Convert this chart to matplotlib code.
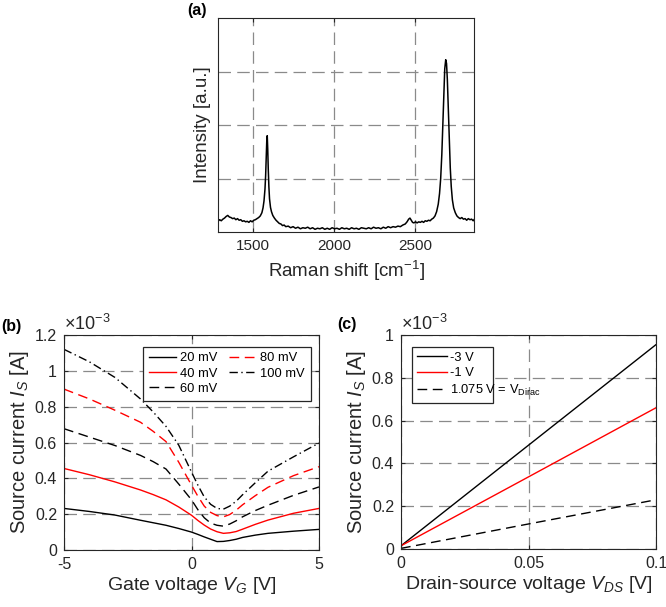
import matplotlib
matplotlib.use("Agg")
import matplotlib.pyplot as plt
from matplotlib.ticker import FuncFormatter
from matplotlib.patches import Rectangle

plt.rcParams['font.family'] = ['Liberation Sans', 'DejaVu Sans']
plt.rcParams['mathtext.fontset'] = 'custom'
plt.rcParams['mathtext.rm'] = 'Liberation Sans'
plt.rcParams['mathtext.it'] = 'Liberation Sans:italic'
plt.rcParams['mathtext.bf'] = 'Liberation Sans:bold'

# ---------------- data ----------------
# (a) Raman spectrum
raman_shift = [1285, 1295, 1305, 1315, 1325, 1335, 1345, 1355, 1365, 1375, 1385, 1395, 1405, 1415,
               1425, 1435, 1445, 1455, 1465, 1475, 1485, 1495, 1505, 1515, 1525, 1535, 1545, 1555,
               1562, 1568, 1574, 1578, 1582, 1585, 1588, 1591, 1594, 1598, 1602, 1608, 1614, 1622,
               1632, 1642, 1652, 1662, 1672, 1682, 1692, 1702, 1717, 1732, 1747, 1762, 1777, 1792,
               1807, 1822, 1837, 1852, 1867, 1882, 1897, 1912, 1927, 1942, 1957, 1972, 1987, 2002,
               2017, 2032, 2047, 2062, 2077, 2092, 2107, 2122, 2137, 2152, 2167, 2182, 2197, 2212,
               2227, 2242, 2257, 2272, 2287, 2302, 2317, 2332, 2347, 2362, 2377, 2392, 2407, 2422,
               2437, 2448, 2458, 2466, 2474, 2482, 2490, 2500, 2510, 2520, 2530, 2540, 2550, 2560,
               2570, 2580, 2590, 2600, 2610, 2620, 2630, 2640, 2648, 2655, 2662, 2668, 2674, 2680,
               2686, 2691, 2696, 2702, 2708, 2714, 2720, 2727, 2735, 2745, 2755, 2765, 2775, 2785,
               2795, 2805, 2815, 2825, 2835, 2845, 2855, 2860]
intensity = [0.20, 0.23, 0.21, 0.24, 0.26, 0.29, 0.31, 0.28, 0.27, 0.25, 0.26, 0.23, 0.25, 0.22,
             0.23, 0.20, 0.21, 0.19, 0.20, 0.18, 0.21, 0.19, 0.22, 0.23, 0.25, 0.27, 0.30, 0.36,
             0.45, 0.58, 0.80, 1.05, 1.40, 1.70, 1.80, 1.55, 1.20, 0.85, 0.62, 0.46, 0.38, 0.31,
             0.26, 0.22, 0.19, 0.16, 0.15, 0.12, 0.13, 0.10, 0.11, 0.08, 0.10, 0.07, 0.09, 0.06,
             0.08, 0.07, 0.09, 0.06, 0.08, 0.05, 0.07, 0.06, 0.08, 0.05, 0.07, 0.05, 0.08, 0.06,
             0.07, 0.05, 0.08, 0.06, 0.07, 0.05, 0.08, 0.06, 0.07, 0.05, 0.08, 0.07, 0.06, 0.08,
             0.06, 0.09, 0.07, 0.08, 0.06, 0.09, 0.07, 0.10, 0.08, 0.10, 0.09, 0.11, 0.10, 0.13,
             0.15, 0.19, 0.24, 0.26, 0.22, 0.18, 0.17, 0.19, 0.17, 0.19, 0.18, 0.20, 0.18, 0.21,
             0.20, 0.22, 0.21, 0.24, 0.26, 0.30, 0.38, 0.52, 0.72, 1.00, 1.45, 2.00, 2.60, 3.05,
             3.22, 3.15, 2.85, 2.30, 1.70, 1.20, 0.85, 0.60, 0.45, 0.36, 0.30, 0.27, 0.25, 0.27,
             0.24, 0.25, 0.22, 0.25, 0.23, 0.24, 0.21, 0.23]

# (b) transfer curves, source current in units of 1e-3 A
gate_voltage = [-5, -4, -3, -2, -1.5, -1, -0.5, 0, 0.25, 0.5, 0.75, 1, 1.25, 1.5, 1.75, 2, 2.5, 3, 4, 5]
vds_labels = ['20 mV', '40 mV', '60 mV', '80 mV', '100 mV']
is_20mV = [0.232, 0.215, 0.195, 0.166, 0.152, 0.138, 0.120, 0.100, 0.087, 0.073, 0.060, 0.047, 0.048, 0.053, 0.060, 0.070, 0.083, 0.093, 0.105, 0.115]
is_40mV = [0.455, 0.420, 0.380, 0.335, 0.309, 0.280, 0.240, 0.194, 0.165, 0.139, 0.117, 0.102, 0.093, 0.096, 0.103, 0.116, 0.143, 0.167, 0.205, 0.232]
is_60mV = [0.677, 0.630, 0.583, 0.528, 0.493, 0.452, 0.368, 0.280, 0.225, 0.180, 0.150, 0.138, 0.133, 0.145, 0.163, 0.185, 0.220, 0.250, 0.305, 0.352]
is_80mV = [0.898, 0.843, 0.780, 0.713, 0.662, 0.605, 0.490, 0.362, 0.300, 0.245, 0.210, 0.192, 0.185, 0.198, 0.222, 0.252, 0.303, 0.350, 0.415, 0.465]
is_100mV = [1.120, 1.050, 0.963, 0.843, 0.770, 0.690, 0.585, 0.435, 0.362, 0.296, 0.255, 0.232, 0.228, 0.245, 0.272, 0.308, 0.375, 0.440, 0.520, 0.597]

# (c) output curves, source current in units of 1e-3 A
drain_source_voltage = [0, 0.05, 0.1]
vg_labels = ['-3 V', '-1 V', '1.075 V = V$_{\\mathrm{Dirac}}$']
is_m3V = [0.015, 0.485, 0.955]
is_m1V = [0.015, 0.337, 0.660]
is_dirac = [0.003, 0.117, 0.230]

# ---------------- styling ----------------
W, H = 666, 607
fig = plt.figure(figsize=(W / 100, H / 100), dpi=100)
DARK = '#262626'
GRID = '#8a8a8a'
DASH = (0, (7, 4))
DASHDOT = (0, (6, 2.5, 1, 2.5))
LEG_FS = 9.3
XLAB_FS = 14
YLAB_FS = 14.5


def ax_px(l, t, r, b):
    return fig.add_axes([l / W, 1 - b / H, (r - l) / W, (b - t) / H])


def style(ax, tick_fs):
    for s in ax.spines.values():
        s.set_color(DARK)
        s.set_linewidth(0.8)
    ax.tick_params(direction='in', length=3, width=0.8, colors=DARK, labelsize=tick_fs,
                   top=True, right=True, pad=5)
    ax.grid(True, color=GRID, linestyle=(0, (10, 5)), linewidth=0.9)
    ax.set_axisbelow(True)


gfmt = FuncFormatter(lambda v, p: '%g' % round(v, 6))

# (a)
axa = ax_px(218, 18, 474, 232)
style(axa, 11)
axa.plot(raman_shift, intensity, color='black', linewidth=1.1)
axa.set_xlim(1285, 2860)
axa.set_ylim(0, 4)
axa.set_xticks([1500, 2000, 2500])
axa.set_yticks([1, 2, 3])
axa.tick_params(axis='y', labelleft=False, length=0)
axa.set_xlabel('Raman shift [cm$^{-1}$]', fontsize=13.5, color=DARK, labelpad=4)
axa.set_ylabel('Intensity [a.u.]', fontsize=13.5, color=DARK, labelpad=5)
fig.text(187 / W, 1 - 10 / H, '(a)', fontsize=11.5, fontweight='bold', va='center', ha='left')

# (b)
axb = ax_px(64, 335, 319, 550)
style(axb, 11.5)
series_b = [is_20mV, is_40mV, is_60mV, is_80mV, is_100mV]
colors_b = ['black', 'red', 'black', 'red', 'black']
styles_b = ['-', '-', DASH, DASH, DASHDOT]
for ys, c, ls, lab in zip(series_b, colors_b, styles_b, vds_labels):
    axb.plot(gate_voltage, ys, color=c, linestyle=ls, linewidth=1.0, label=lab)
axb.set_xlim(-5, 5)
axb.set_ylim(0, 1.2)
axb.set_xticks([-5, 0, 5])
axb.set_yticks([0, 0.2, 0.4, 0.6, 0.8, 1.0, 1.2])
axb.xaxis.set_major_formatter(gfmt)
axb.yaxis.set_major_formatter(gfmt)
axb.set_xlabel('Gate voltage $V_G$ [V]', fontsize=XLAB_FS, color=DARK, labelpad=2)
axb.set_ylabel('Source current $I_S$ [A]', fontsize=YLAB_FS, color=DARK, labelpad=3)
axb.text(0.0, 1.005, '$\\times$10$^{-3}$', transform=axb.transAxes, fontsize=13, color=DARK,
         ha='left', va='bottom')
legb = axb.legend(ncol=2, loc='upper right', bbox_to_anchor=(0.967, 0.946),
                  borderaxespad=0, fontsize=LEG_FS, handlelength=2.1, handletextpad=0.3,
                  columnspacing=0.9, labelspacing=0.25, borderpad=0.45, frameon=True,
                  fancybox=False, framealpha=1, edgecolor=DARK)
legb.get_frame().set_linewidth(0.9)
fig.text(1 / W, 1 - 327 / H, '(b)', fontsize=11.5, fontweight='bold', va='center', ha='left')

# (c)
axc = ax_px(401, 335, 656, 549)
style(axc, 11.5)
series_c = [is_m3V, is_m1V, is_dirac]
colors_c = ['black', 'red', 'black']
styles_c = ['-', '-', DASH]
for ys, c, ls, lab in zip(series_c, colors_c, styles_c, vg_labels):
    axc.plot(drain_source_voltage, ys, color=c, linestyle=ls, linewidth=1.0, label=lab)
axc.set_xlim(0, 0.1)
axc.set_ylim(0, 1.0)
axc.set_xticks([0, 0.05, 0.1])
axc.set_yticks([0, 0.2, 0.4, 0.6, 0.8, 1.0])
axc.xaxis.set_major_formatter(gfmt)
axc.yaxis.set_major_formatter(gfmt)
axc.set_xlabel('Drain-source voltage $V_{DS}$ [V]', fontsize=XLAB_FS, color=DARK, labelpad=2)
axc.set_ylabel('Source current $I_S$ [A]', fontsize=YLAB_FS, color=DARK, labelpad=3)
axc.text(0.0, 1.005, '$\\times$10$^{-3}$', transform=axc.transAxes, fontsize=13, color=DARK,
         ha='left', va='bottom')
# legend box (in the original the last entry overflows its frame)
frame_c = Rectangle((0.042, 0.681), 0.318, 0.264, transform=axc.transAxes, facecolor='white',
                    edgecolor=DARK, linewidth=0.9, zorder=4)
axc.add_patch(frame_c)
legc = axc.legend(loc='upper left', bbox_to_anchor=(0.042, 0.945), borderaxespad=0,
                  fontsize=LEG_FS, handlelength=2.3, handletextpad=0.3, labelspacing=0.25,
                  borderpad=0.4, frameon=False)
legc.set_zorder(5)
fig.text(337 / W, 1 - 325 / H, '(c)', fontsize=11.5, fontweight='bold', va='center', ha='left')

fig.savefig('out.png', dpi=100)
